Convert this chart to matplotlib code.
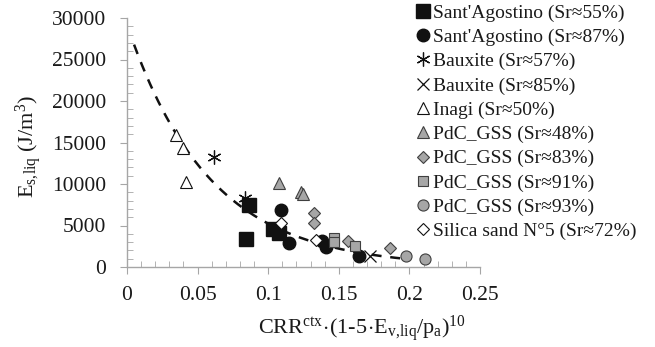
import numpy as np
import matplotlib.pyplot as plt
from matplotlib.ticker import MultipleLocator

plt.rcParams['font.family'] = ['Liberation Serif', 'DejaVu Serif']
plt.rcParams['mathtext.fontset'] = 'custom'
plt.rcParams['mathtext.rm'] = 'Liberation Serif'
plt.rcParams['mathtext.it'] = 'Liberation Serif:italic'

# data
sa55_x = [0.0863, 0.0846, 0.1035, 0.1075]
sa55_y = [7470, 3370, 4580, 4130]
sa87_x = [0.109, 0.1148, 0.1384, 0.1412, 0.1643]
sa87_y = [6870, 2930, 3130, 2370, 1330]
bx57_x = [0.0613, 0.0835]
bx57_y = [13200, 8270]
bx85_x = [0.1723]
bx85_y = [1330]
inagi_x = [0.035, 0.040, 0.042]
inagi_y = [15900, 14300, 10280]
pdc48_x = [0.1075, 0.1235, 0.1247]
pdc48_y = [10080, 9000, 8760]
pdc83_x = [0.1325, 0.1325, 0.1565, 0.186]
pdc83_y = [6470, 5260, 3170, 2250]
pdc91_x = [0.1464, 0.1464, 0.1612]
pdc91_y = [3460, 3050, 2530]
pdc93_x = [0.1978, 0.2107]
pdc93_y = [1330, 930]
silica_x = [0.109, 0.134]
silica_y = [5340, 3250]

# exponential trend line E = a*exp(b*x), coefficients
trend_a = 29200
trend_b = -17.2
trend_range = (0.005, 0.195)

black = '#111111'
grey = '#a6a6a6'
edge = '#3f3f3f'

series = [
    (sa55_x, sa55_y, "Sant'Agostino (Sr≈55%)", dict(marker='s', ms=9.5, mfc=black, mec=black)),
    (sa87_x, sa87_y, "Sant'Agostino (Sr≈87%)", dict(marker='o', ms=9, mfc=black, mec=black)),
    (bx57_x, bx57_y, "Bauxite (Sr≈57%)", dict(marker=(6, 2, 0), ms=10, mfc='none', mec=black, mew=0.9)),
    (bx85_x, bx85_y, "Bauxite (Sr≈85%)", dict(marker='x', ms=8, mfc='none', mec=black, mew=0.9)),
    (inagi_x, inagi_y, "Inagi (Sr≈50%)", dict(marker='^', ms=9, mfc='white', mec=black, mew=0.8)),
    (pdc48_x, pdc48_y, "PdC_GSS (Sr≈48%)", dict(marker='^', ms=9, mfc=grey, mec=edge, mew=0.8)),
    (pdc83_x, pdc83_y, "PdC_GSS (Sr≈83%)", dict(marker='D', ms=6.5, mfc=grey, mec=edge, mew=0.8)),
    (pdc91_x, pdc91_y, "PdC_GSS (Sr≈91%)", dict(marker='s', ms=7, mfc=grey, mec=edge, mew=0.8)),
    (pdc93_x, pdc93_y, "PdC_GSS (Sr≈93%)", dict(marker='o', ms=8, mfc=grey, mec=edge, mew=0.8)),
    (silica_x, silica_y, "Silica sand N°5 (Sr≈72%)", dict(marker='D', ms=6, mfc='white', mec=black, mew=0.8)),
]

fig = plt.figure(figsize=(6.55, 3.47), dpi=100)
ax = fig.add_axes([127 / 655, 80 / 347, 353 / 655, 249 / 347])

for xs, ys, lab, st in series:
    ax.plot(xs, ys, linestyle='none', label=lab, **st)

tx = np.linspace(trend_range[0], trend_range[1], 200)
ax.plot(tx, trend_a * np.exp(trend_b * tx), color=black, linestyle=(0, (4, 3.5)), linewidth=1.8, zorder=1)

ax.set_xlim(0, 0.25)
ax.set_ylim(0, 30000)
ax.xaxis.set_major_locator(MultipleLocator(0.05))
ax.xaxis.set_minor_locator(MultipleLocator(0.01))
ax.yaxis.set_major_locator(MultipleLocator(5000))
ax.yaxis.set_minor_locator(MultipleLocator(1000))
ax.set_xticks([0, 0.05, 0.1, 0.15, 0.2, 0.25])
ax.set_xticklabels(['0', '0.05', '0.1', '0.15', '0.2', '0.25'])

for s in ['top', 'right']:
    ax.spines[s].set_visible(False)
for s in ['left', 'bottom']:
    ax.spines[s].set_color('#a6a6a6')
    ax.spines[s].set_linewidth(1.0)
ax.tick_params(which='major', direction='out', length=5, color='#a6a6a6', labelsize=15.5,
               labelcolor='#1a1a1a')
ax.tick_params(axis='y', which='major', pad=10)
ax.tick_params(axis='x', which='major', pad=9)
ax.tick_params(which='minor', direction='in', length=4, color='#a6a6a6')

fig.text(362 / 655, 13 / 347, r'$\mathrm{CRR^{ctx}\!\cdot\!(1\text{-}5\!\cdot\!E_{v,\!liq}/p_a)^{10}}$',
         ha='center', va='baseline', fontsize=16, color='#1a1a1a')
fig.text(29 / 655, 1 - 147 / 347, r'$\mathrm{E_{s,\!liq}\ (J/m^3)}$', rotation=90,
         ha='center', va='center', fontsize=16, color='#1a1a1a')

fig.legend(loc='upper left', bbox_to_anchor=(417 / 655, 1 - 4 / 347), frameon=False, fontsize=14,
           handlelength=0.6, handletextpad=0.2, labelspacing=0.34, borderpad=0.0,
           borderaxespad=0.0, numpoints=1, labelcolor='#1a1a1a')

fig.savefig('out.png', dpi=100)
